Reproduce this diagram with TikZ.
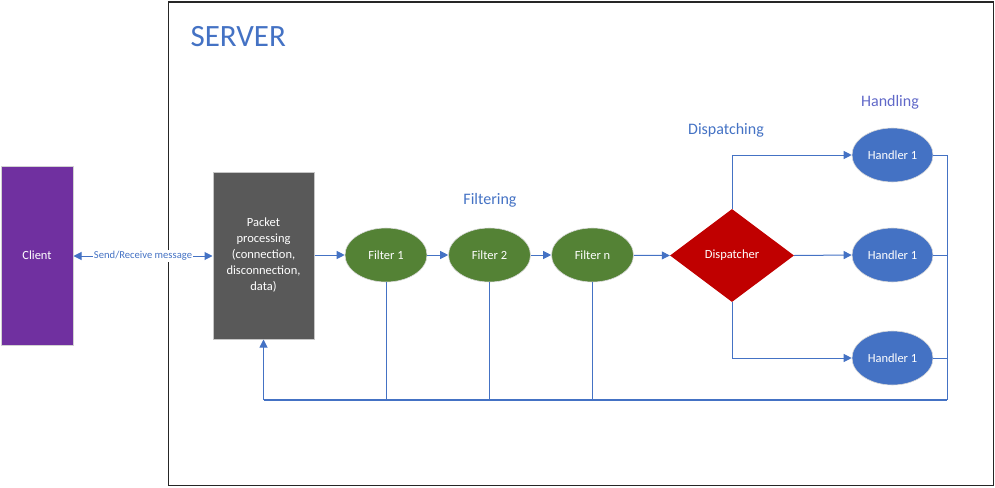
\documentclass[tikz,border=0pt]{standalone}
\usepackage{fontspec}
\setmainfont{Carlito}
\usetikzlibrary{shapes.geometric,arrows.meta}
\definecolor{lblue}{HTML}{4472C4}
\definecolor{cpurple}{HTML}{7030A0}
\definecolor{pgray}{HTML}{595959}
\definecolor{fgreen}{HTML}{548235}
\definecolor{dred}{HTML}{C00000}
\definecolor{hcol}{HTML}{6068C8}
\tikzset{
  ntext/.style={text=white,font=\fontsize{12.5}{16}\selectfont,align=center},
  filt/.style={ellipse,fill=fgreen,draw=gray!30,line width=0.6pt,minimum width=82pt,minimum height=54pt,inner sep=0pt,ntext},
  hand/.style={ellipse,fill=lblue,draw=gray!30,line width=0.6pt,minimum width=81pt,minimum height=54pt,inner sep=0pt,ntext},
  conn/.style={draw=lblue,line width=1pt},
  arr/.style={conn,-{Triangle[length=8pt,width=8pt]}},
  stage/.style={text=lblue,font=\fontsize{16}{18}\selectfont},
}
\begin{document}
\begin{tikzpicture}[x=1pt,y=-1pt]
\useasboundingbox (0,0) rectangle (995,487);
\node[draw=black!85,line width=1.3pt,minimum width=825pt,minimum height=483.5pt,inner sep=0pt,anchor=north west] (server) at (168,1.5) {};
\node[anchor=west,text=lblue,font=\fontsize{31}{33}\selectfont] (title) at (187,37) {SERVER};
\node[fill=cpurple,draw=gray!35,line width=1pt,minimum width=72pt,minimum height=179pt,inner sep=0pt,ntext] (client) at (37,255.5) {Client};
\node[fill=pgray,draw=gray!45,line width=1pt,minimum width=101pt,minimum height=167pt,inner sep=0pt,ntext] (pp) at (263.5,255.5) {Packet\\processing\\(connection,\\disconnection,\\data)};
\node[filt] (f1) at (386,255) {Filter 1};
\node[filt] (f2) at (489.5,255) {Filter 2};
\node[filt] (fn) at (592.5,255) {Filter n};
\node[diamond,fill=dred,minimum width=124pt,minimum height=93pt,aspect=1.333,inner sep=0pt,ntext] (disp) at (732,255.5) {Dispatcher};
\node[hand] (h1) at (892.5,155) {Handler 1};
\node[hand] (h2) at (892.5,255) {Handler 1};
\node[hand] (h3) at (892.5,358) {Handler 1};
\node[stage] (lfilt) at (490,200) {Filtering};
\node[stage] (ldisp) at (726,130) {Dispatching};
\node[stage,text=hcol] (lhand) at (890,102) {Handling};
% client <-> packet processing
\draw[conn,{Triangle[length=8pt,width=8pt]}-{Triangle[length=8pt,width=8pt]}] (client.east |- 0,256) -- node[fill=white,inner sep=1pt,text=lblue,font=\fontsize{10.6}{12}\selectfont] (msg) {Send/Receive message} (pp.west |- 0,256);
% pipeline
\draw[arr] (pp.east |- 0,255) -- (f1.west);
\draw[arr] (f1) -- (f2);
\draw[arr] (f2) -- (fn);
\draw[arr] (fn) -- (disp.west);
\draw[arr] (disp.north) |- (h1.west);
\draw[arr] (disp.east) -- (h2.west);
\draw[arr] (disp.south) |- (h3.west);
% feedback
\coordinate (br) at (947,400);
\coordinate (bl) at (263.5,400);
\draw[conn] (h1.east) -| (br);
\draw[conn] (h2.east) -- (h2.east -| br);
\draw[conn] (h3.east) -- (h3.east -| br);
\draw[conn] (f1.south) -- (f1.south |- br);
\draw[conn] (f2.south) -- (f2.south |- br);
\draw[conn] (fn.south) -- (fn.south |- br);
\draw[conn,line width=1.8pt] (br) -- (bl);
\draw[arr] (bl) -- (pp.south);
\end{tikzpicture}
\end{document}
